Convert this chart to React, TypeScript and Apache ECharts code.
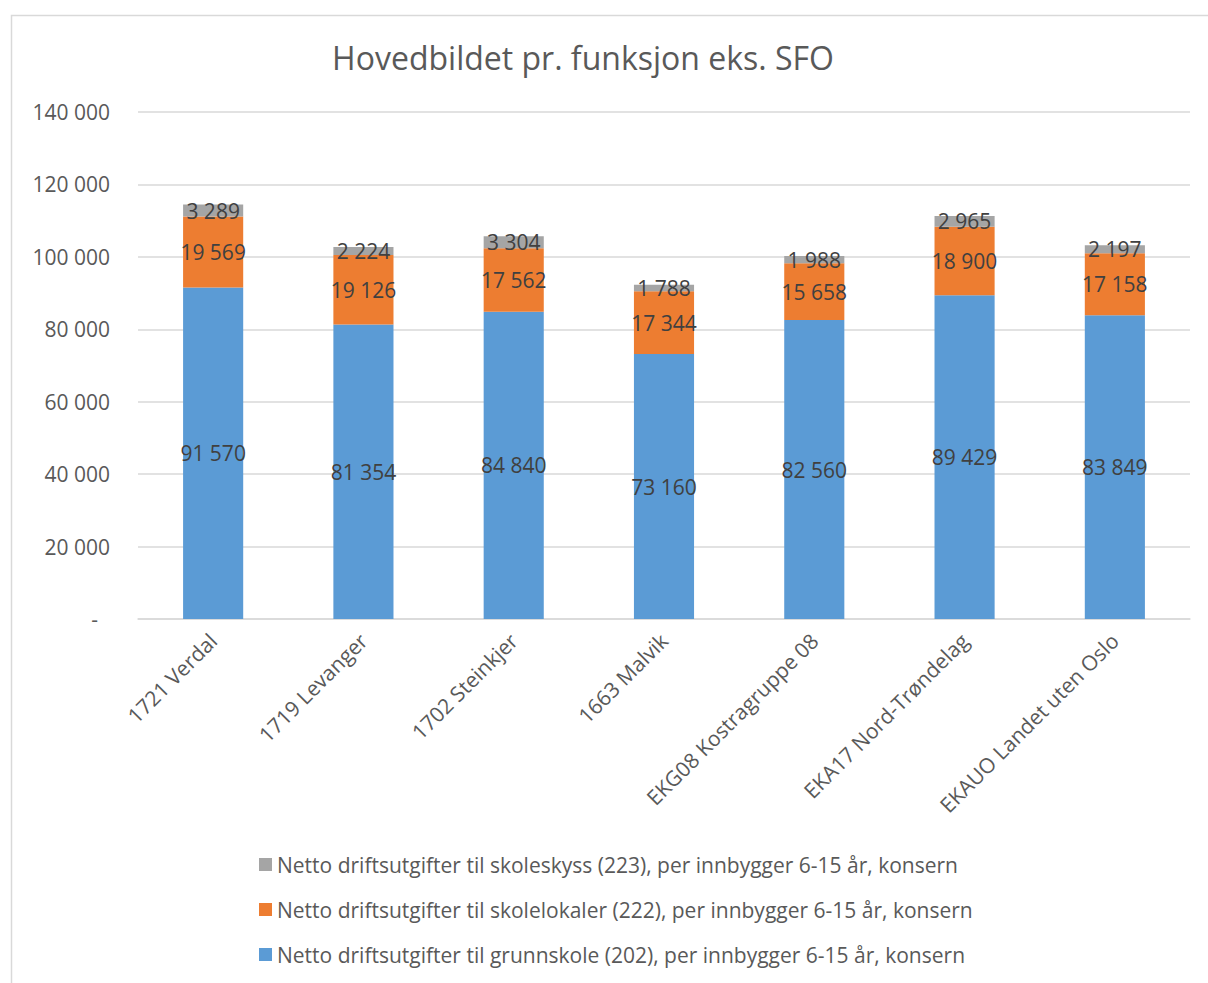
import React, { useEffect, useRef } from "react";
import * as echarts from "echarts";

const categories = [
  "1721 Verdal",
  "1719 Levanger",
  "1702 Steinkjer",
  "1663 Malvik",
  "EKG08 Kostragruppe 08",
  "EKA17 Nord-Trøndelag",
  "EKAUO Landet uten Oslo",
];
const grunnskole = [91570, 81354, 84840, 73160, 82560, 89429, 83849];
const skolelokaler = [19569, 19126, 17562, 17344, 15658, 18900, 17158];
const skoleskyss = [3289, 2224, 3304, 1788, 1988, 2965, 2197];

const seriesNames = [
  "Netto driftsutgifter til grunnskole (202), per innbygger 6-15 år, konsern",
  "Netto driftsutgifter til skolelokaler (222), per innbygger 6-15 år, konsern",
  "Netto driftsutgifter til skoleskyss (223), per innbygger 6-15 år, konsern",
];
const colors = ["#5B9BD5", "#ED7D31", "#A5A5A5"];

const FONT = "'Open Sans', sans-serif";

function fmt(v: number): string {
  const s = Math.round(v).toString();
  return s.replace(/\B(?=(\d{3})+(?!\d))/g, " ");
}

export default function App() {
  const ref = useRef<HTMLDivElement>(null);
  useEffect(() => {
    if (!ref.current) return;
    const chart = echarts.init(ref.current, null, { renderer: "svg" });
    const dataSets = [grunnskole, skolelokaler, skoleskyss];
    chart.setOption({
      animation: false,
      backgroundColor: "#ffffff",
      textStyle: { fontFamily: FONT },
      graphic: [
        {
          type: "rect",
          left: 9,
          top: 13,
          shape: { width: 1260, height: 1060 },
          style: { fill: "none", stroke: "#d9d9d9", lineWidth: 1.5 },
          silent: true,
        },
      ],
      title: {
        text: "Hovedbildet pr. funksjon eks. SFO",
        left: 578,
        textAlign: "center",
        top: 36,
        textStyle: {
          fontFamily: FONT,
          fontSize: 32,
          fontWeight: "normal",
          color: "#595959",
        },
      },
      legend: {
        orient: "vertical",
        left: 254,
        top: 849,
        itemWidth: 13,
        itemHeight: 13,
        itemGap: 24,
        icon: "rect",
        data: [seriesNames[2], seriesNames[1], seriesNames[0]],
        textStyle: { fontFamily: FONT, fontSize: 21, color: "#595959" },
      },
      grid: { left: 138, right: 18, top: 112, bottom: 364, containLabel: false },
      xAxis: {
        type: "category",
        data: categories,
        axisLine: { lineStyle: { color: "#d9d9d9", width: 1.5 } },
        axisTick: { show: false },
        axisLabel: {
          rotate: 45,
          interval: 0,
          margin: 18,
          color: "#595959",
          fontSize: 21,
          fontFamily: FONT,
        },
      },
      yAxis: {
        type: "value",
        min: 0,
        max: 140000,
        interval: 20000,
        axisLine: { show: false },
        axisTick: { show: false },
        splitLine: { lineStyle: { color: "#d9d9d9", width: 1.5 } },
        axisLabel: {
          margin: 28,
          color: "#595959",
          fontSize: 21,
          fontFamily: FONT,
          formatter: (v: number) => (v === 0 ? "{d|-}" : fmt(v)),
          rich: {
            d: { color: "#595959", fontSize: 21, fontFamily: FONT, padding: [0, 12, 0, 0] },
          },
        },
      },
      series: dataSets.map((d, i) => ({
        name: seriesNames[i],
        type: "bar",
        stack: "total",
        barWidth: "40%",
        data: d,
        itemStyle: { color: colors[i] },
        label: {
          show: true,
          position: "inside",
          color: "#404040",
          fontSize: 21,
          fontFamily: FONT,
          formatter: (p: any) => fmt(p.value),
        },
      })),
    });
    return () => chart.dispose();
  }, []);
  return (
    <div
      ref={ref}
      style={{ position: "fixed", left: 0, top: 0, width: 1208, height: 983 }}
    />
  );
}
